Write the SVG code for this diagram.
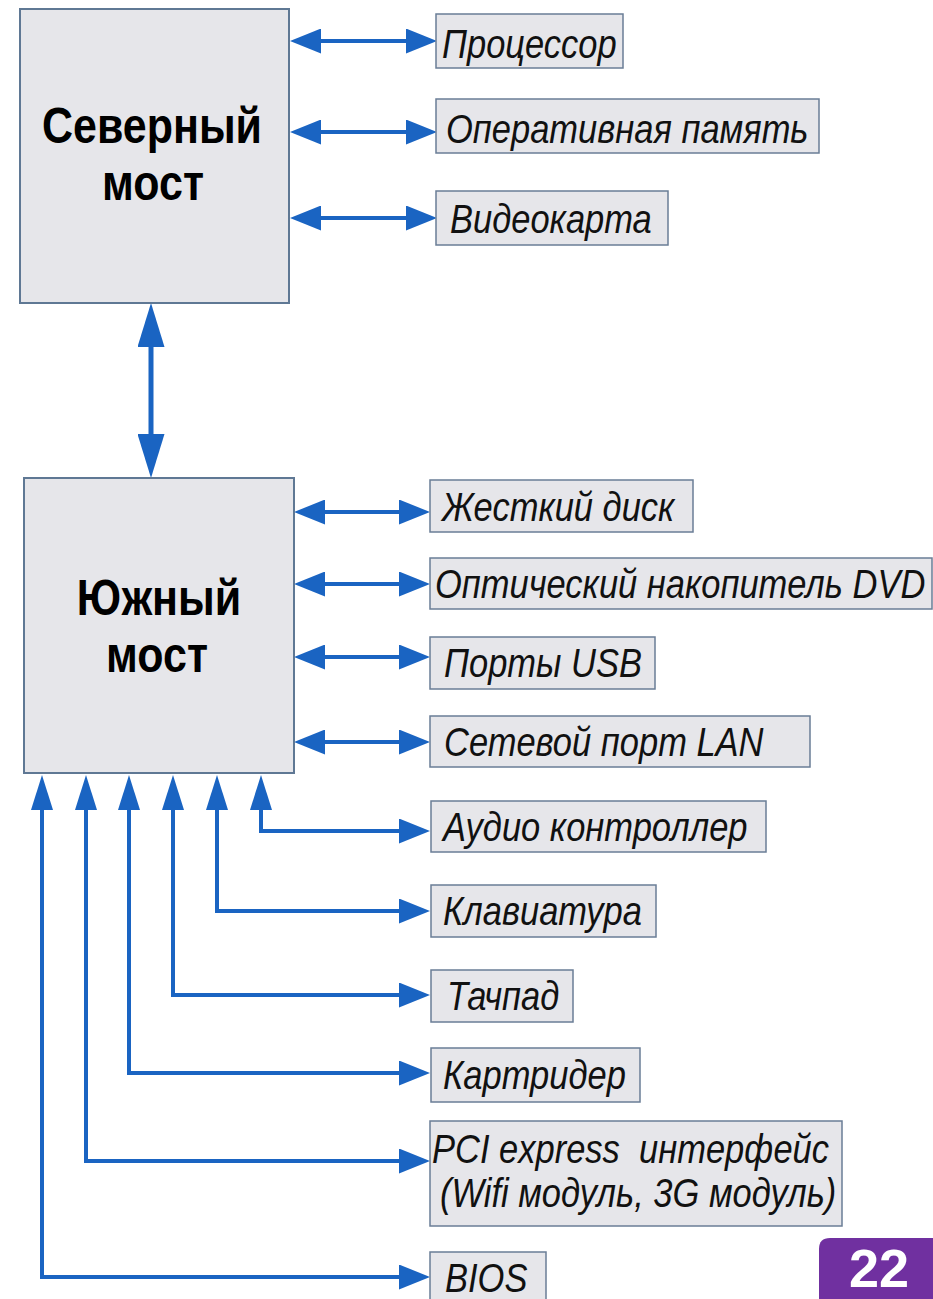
<svg xmlns="http://www.w3.org/2000/svg" width="933" height="1299" viewBox="0 0 933 1299">
<style>
.bridge{fill:#e6e6ea;stroke:#5f7894;stroke-width:2}
.box{fill:#e6e6ea;stroke:#6a7d96;stroke-width:1.5}
.big{font-family:"Liberation Sans",Arial,sans-serif;font-weight:bold;font-size:43px;fill:#000;text-anchor:middle}
.lbl{font-family:"Liberation Sans",Arial,sans-serif;font-style:italic;font-size:34.5px;fill:#111}
.con{fill:none;stroke:#1a64c2;stroke-width:4}
.badge{fill:#7030a0}
.num{font-family:"Liberation Sans",Arial,sans-serif;font-weight:bold;font-size:54px;fill:#fff;text-anchor:middle}
</style>
<defs>
<marker id="h1" viewBox="0 0 31 25" refX="11" refY="12.5" markerWidth="31" markerHeight="25" markerUnits="userSpaceOnUse" orient="auto-start-reverse"><path d="M0,0 L31,12.5 L0,25 z" fill="#1a64c2"/></marker>
<marker id="h2" viewBox="0 0 44 27" refX="24" refY="13.5" markerWidth="44" markerHeight="27" markerUnits="userSpaceOnUse" orient="auto-start-reverse"><path d="M0,0 L44,13.5 L0,27 z" fill="#1a64c2"/></marker>
<marker id="h3" viewBox="0 0 35 22" refX="15" refY="11" markerWidth="35" markerHeight="22" markerUnits="userSpaceOnUse" orient="auto-start-reverse"><path d="M0,0 L35,11 L0,22 z" fill="#1a64c2"/></marker>
</defs>
<rect width="933" height="1299" fill="#fff"/>

<g id="connectors">
<line class="con" x1="310" y1="41" x2="417" y2="41" marker-start="url(#h1)" marker-end="url(#h1)"/>
<line class="con" x1="310" y1="132" x2="417" y2="132" marker-start="url(#h1)" marker-end="url(#h1)"/>
<line class="con" x1="310" y1="218" x2="417" y2="218" marker-start="url(#h1)" marker-end="url(#h1)"/>
<line class="con" style="stroke-width:5" x1="151" y1="323" x2="151" y2="458" marker-start="url(#h2)" marker-end="url(#h2)"/>
<line class="con" x1="314" y1="512" x2="410" y2="512" marker-start="url(#h1)" marker-end="url(#h1)"/>
<line class="con" x1="314" y1="584" x2="410" y2="584" marker-start="url(#h1)" marker-end="url(#h1)"/>
<line class="con" x1="314" y1="657" x2="410" y2="657" marker-start="url(#h1)" marker-end="url(#h1)"/>
<line class="con" x1="314" y1="742" x2="410" y2="742" marker-start="url(#h1)" marker-end="url(#h1)"/>
<path class="con" d="M261,795 V831 H410" marker-start="url(#h3)" marker-end="url(#h1)"/>
<path class="con" d="M217,795 V911 H410" marker-start="url(#h3)" marker-end="url(#h1)"/>
<path class="con" d="M173,795 V995 H410" marker-start="url(#h3)" marker-end="url(#h1)"/>
<path class="con" d="M129,795 V1073 H410" marker-start="url(#h3)" marker-end="url(#h1)"/>
<path class="con" d="M86,795 V1161 H410" marker-start="url(#h3)" marker-end="url(#h1)"/>
<path class="con" d="M42,795 V1277 H410" marker-start="url(#h3)" marker-end="url(#h1)"/>
</g>

<g id="north-bridge">
<rect class="bridge" x="20" y="9" width="269" height="294"/>
<text class="big" transform="translate(152,143) scale(1,1.18)">Северный</text>
<text class="big" transform="translate(153,200) scale(1,1.18)">мост</text>
</g>

<g id="south-bridge">
<rect class="bridge" x="24" y="478" width="270" height="295"/>
<text class="big" transform="translate(159,615) scale(1,1.18)">Южный</text>
<text class="big" transform="translate(157,672) scale(1,1.18)">мост</text>
</g>

<g id="cpu">
<rect class="box" x="436" y="14" width="187" height="54"/>
<text class="lbl" transform="translate(442,58) scale(1,1.18)">Процессор</text>
</g>
<g id="ram">
<rect class="box" x="436" y="99" width="383" height="54"/>
<text class="lbl" transform="translate(446,143) scale(1,1.18)">Оперативная память</text>
</g>
<g id="gpu">
<rect class="box" x="436" y="191" width="232" height="54"/>
<text class="lbl" transform="translate(450,233) scale(1,1.18)">Видеокарта</text>
</g>
<g id="hdd">
<rect class="box" x="430" y="480" width="263" height="52"/>
<text class="lbl" transform="translate(442,521) scale(1,1.18)">Жесткий диск</text>
</g>
<g id="dvd">
<rect class="box" x="430" y="558" width="502" height="51"/>
<text class="lbl" transform="translate(435,598) scale(1,1.18)">Оптический накопитель DVD</text>
</g>
<g id="usb">
<rect class="box" x="430" y="637" width="225" height="52"/>
<text class="lbl" transform="translate(444,677) scale(1,1.18)">Порты USB</text>
</g>
<g id="lan">
<rect class="box" x="430" y="716" width="380" height="51"/>
<text class="lbl" transform="translate(444,756) scale(1,1.18)">Сетевой порт LAN</text>
</g>
<g id="audio">
<rect class="box" x="431" y="801" width="335" height="51"/>
<text class="lbl" transform="translate(443,841) scale(1,1.18)">Аудио контроллер</text>
</g>
<g id="keyboard">
<rect class="box" x="431" y="885" width="225" height="52"/>
<text class="lbl" transform="translate(443,925) scale(1,1.18)">Клавиатура</text>
</g>
<g id="touchpad">
<rect class="box" x="431" y="970" width="142" height="52"/>
<text class="lbl" transform="translate(447,1010) scale(1,1.18)">Тачпад</text>
</g>
<g id="cardreader">
<rect class="box" x="431" y="1048" width="209" height="54"/>
<text class="lbl" transform="translate(443,1089) scale(1,1.18)">Картридер</text>
</g>
<g id="pcie">
<rect class="box" x="430" y="1121" width="412" height="105"/>
<text class="lbl" xml:space="preserve" transform="translate(432,1163) scale(1,1.18)">PCI express  интерфейс</text>
<text class="lbl" transform="translate(440,1207) scale(1,1.18)">(Wifi модуль, 3G модуль)</text>
</g>
<g id="bios">
<rect class="box" x="430" y="1252" width="116" height="54"/>
<text class="lbl" transform="translate(445,1292) scale(1,1.18)">BIOS</text>
</g>

<g id="page-number">
<path class="badge" d="M819,1299 V1249 Q819,1238 830,1238 H933 V1299 Z"/>
<text class="num" x="879" y="1287">22</text>
</g>
</svg>
